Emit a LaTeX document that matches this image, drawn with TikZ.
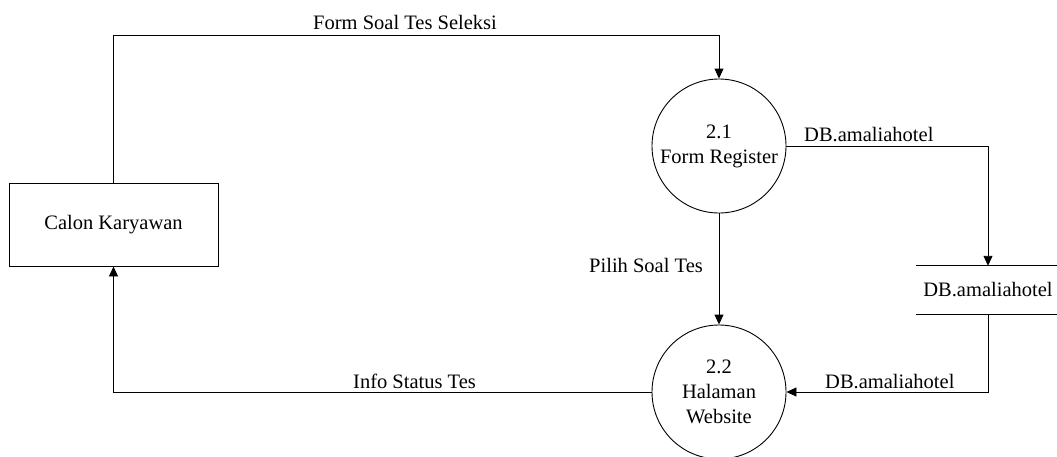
\documentclass[tikz,border=0pt]{standalone}
\usepackage{fontspec}
\setmainfont{Liberation Serif}
\usetikzlibrary{arrows.meta}
\begin{document}
\begin{tikzpicture}[x=1pt,y=-1pt,
  every node/.style={font=\fontsize{20.5}{25}\selectfont},
  line/.style={draw, line width=0.9pt},
  flow/.style={line, -{Triangle[length=10pt,width=9pt]}},
  proc/.style={draw, circle, minimum size=134pt, inner sep=0pt, align=center, line width=0.9pt},
  entity/.style={draw, rectangle, minimum width=209pt, minimum height=83pt, inner sep=0pt, line width=0.9pt},
  store/.style={minimum width=144pt, minimum height=48pt, inner sep=0pt},
  lbl/.style={inner sep=0pt}
]
\clip (0,0) rectangle (1057,456);
\node[entity] (ck) at (113.5,224.5) {Calon Karyawan};
\node[proc] (p1) at (719,146) {2.1\\Form Register};
\node[proc] (p2) at (719,392) {2.2\\Halaman\\Website};
\node[store] (ds) at (988,290) {DB.amaliahotel};
\draw[line] (ds.north west) -- (ds.north east);
\draw[line] (ds.south west) -- (ds.south east);
\coordinate (topy) at (0,35.5);
\draw[flow] (ck.north) -- (ck.north |- topy) -| (p1.north);
\draw[flow] (p1.east) -| (ds.north);
\draw[flow] (ds.south) |- (p2.east);
\draw[flow] (p1.south) -- (p2.north);
\draw[flow] (p2.west) -| (ck.south);
\node[lbl, anchor=base west] (l1) at (313,29) {Form Soal Tes Seleksi};
\node[lbl, anchor=base west] (l2) at (804,141) {DB.amaliahotel};
\node[lbl, anchor=base west] (l3) at (825,388) {DB.amaliahotel};
\node[lbl, anchor=base east] (l4) at (703,272) {Pilih Soal Tes};
\node[lbl, anchor=base west] (l5) at (353,388) {Info Status Tes};
\end{tikzpicture}
\end{document}
